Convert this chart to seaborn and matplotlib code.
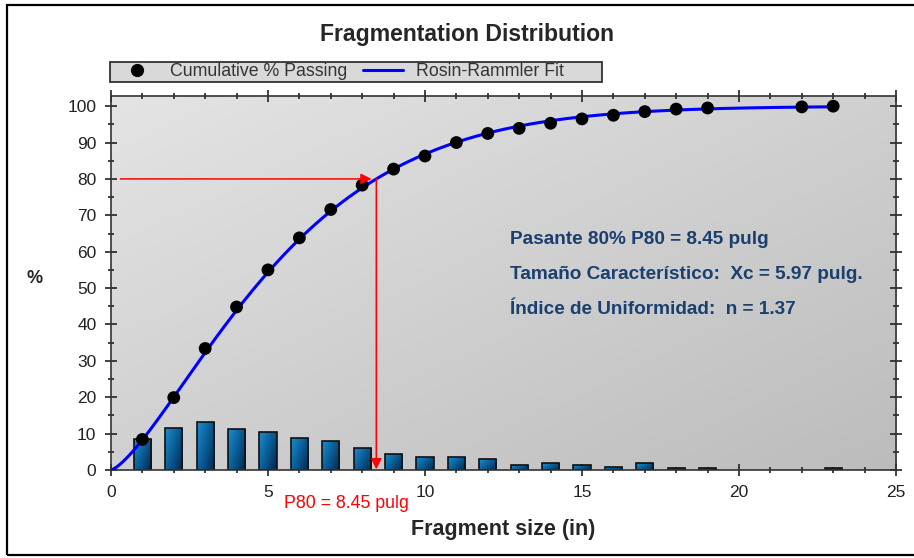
import numpy as np
import matplotlib
matplotlib.use("Agg")
import matplotlib.pyplot as plt
from matplotlib.lines import Line2D
from matplotlib.patches import Rectangle
from matplotlib.ticker import MultipleLocator
from matplotlib.colors import LinearSegmentedColormap
import seaborn as sns

# Sieve sizes (in) and cumulative % passing
size_in = [1, 2, 3, 4, 5, 6, 7, 8, 9, 10, 11, 12, 13, 14, 15, 16, 17, 18, 19, 22, 23]
cum_passing = [8.4, 19.9, 33.4, 44.8, 55.0, 63.8, 71.6, 78.3, 82.7, 86.3, 90.0,
               92.5, 93.9, 95.3, 96.5, 97.5, 98.5, 99.2, 99.5, 99.8, 100.0]

# Retained % per size class
bin_size = [1, 2, 3, 4, 5, 6, 7, 8, 9, 10, 11, 12, 13, 14, 15, 16, 17, 18, 19, 23]
retained = [8.4, 11.6, 13.2, 11.2, 10.5, 8.8, 8.1, 6.1, 4.5, 3.7, 3.7, 2.9,
            1.4, 1.8, 1.5, 0.9, 1.8, 0.5, 0.5, 0.5]

# Rosin-Rammler parameters
xc = 5.97
n_index = 1.37
p80 = 8.45
fit_x = np.linspace(0, 23, 300)
fit_y = 100 * (1 - np.exp(-(fit_x / xc) ** n_index))

sns.set_style("ticks")
plt.rcParams["font.family"] = ["Liberation Sans", "DejaVu Sans"]

W, H = 914, 558
fig = plt.figure(figsize=(W / 100, H / 100), dpi=100)
ax = fig.add_axes([0.1214, 0.1577, 0.8589, 0.6703])

# Outer frame around the figure
fig.patches.append(Rectangle((7 / W, 3 / H), 1.0, 1 - 8 / H,
                             transform=fig.transFigure, fill=False,
                             edgecolor="black", lw=1.6, zorder=10))

# Gradient plot background, light at top-left, darker at bottom-right
bg_cmap = LinearSegmentedColormap.from_list("bg", ["#e4e4e4", "#bcbcbc"])
gy, gx = np.mgrid[0:1:200j, 0:1:200j]
bg = 0.5 * gx + 0.5 * gy
ax.imshow(bg, extent=[0, 1, 0, 1], transform=ax.transAxes, cmap=bg_cmap,
          vmin=0, vmax=1, aspect="auto", zorder=0, origin="upper")

# Histogram bars with blue gradient fill
sns.barplot(x=bin_size, y=retained, native_scale=True, width=0.55, ax=ax,
            color="#0b5f9a", edgecolor="#101010", linewidth=1.2, zorder=2)
bar_cmap = LinearSegmentedColormap.from_list("barblue", ["#1b8fd2", "#0a5c94", "#02264a"])
bgx, bgy = np.meshgrid(np.linspace(0, 1, 50), np.linspace(0, 1, 50))
bar_grad = 0.6 * bgx + 0.4 * bgy
for p in list(ax.patches):
    x0, y0 = p.get_x(), p.get_y()
    w, h = p.get_width(), p.get_height()
    im = ax.imshow(bar_grad, extent=[x0, x0 + w, y0, y0 + h], cmap=bar_cmap,
                   aspect="auto", origin="upper", zorder=2.1)
    im.set_clip_path(p)
    p.set_facecolor("none")
    p.set_zorder(2.2)

sns.lineplot(x=fit_x, y=fit_y, color="#0000ff", lw=2.2, ax=ax, zorder=3)
sns.scatterplot(x=size_in, y=cum_passing, color="black", s=85, edgecolor="none",
                ax=ax, zorder=4)

# P80 guide arrows
ax.annotate("", xy=(p80 - 0.15, 80), xytext=(0.3, 80),
            arrowprops=dict(arrowstyle="-|>", color="red", lw=1.1,
                            mutation_scale=16, shrinkA=0, shrinkB=0), zorder=5)
ax.annotate("", xy=(p80, 0.2), xytext=(p80, 80),
            arrowprops=dict(arrowstyle="-|>", color="red", lw=1.1,
                            mutation_scale=16, shrinkA=0, shrinkB=0), zorder=5)
ax.text(7.5, -9.1, f"P80 = {p80:.2f} pulg", color="red", fontsize=12.8,
        ha="center", va="center", clip_on=False)

info_color = "#1b3f6e"
ax.text(12.7, 63.4, f"Pasante 80% P80 = {p80:.2f} pulg", color=info_color,
        fontsize=13.7, fontweight="bold", ha="left", va="center")
ax.text(12.7, 53.7, f"Tamaño Característico:  Xc = {xc:.2f} pulg.", color=info_color,
        fontsize=13.7, fontweight="bold", ha="left", va="center")
ax.text(12.7, 44.1, f"Índice de Uniformidad:  n = {n_index:.2f}", color=info_color,
        fontsize=13.7, fontweight="bold", ha="left", va="center")

ax.set_xlim(0, 25)
ax.set_ylim(0, 102.8)
ax.xaxis.set_major_locator(MultipleLocator(5))
ax.xaxis.set_minor_locator(MultipleLocator(1))
ax.yaxis.set_major_locator(MultipleLocator(10))
ax.yaxis.set_minor_locator(MultipleLocator(5))
ax.tick_params(which="both", direction="inout", top=True, right=True,
               colors="#222222", labelcolor="#222222", width=1.2)
ax.tick_params(which="major", length=9, labelsize=12.5, pad=6)
ax.tick_params(which="minor", length=5)
for s in ax.spines.values():
    s.set_color("#333333")
    s.set_linewidth(1.2)

ax.set_xlabel("Fragment size (in)", fontsize=15.5, fontweight="bold", labelpad=14)
ax.set_ylabel("%", fontsize=13, fontweight="bold", rotation=0, labelpad=0)
ax.yaxis.set_label_coords(-0.097, 0.49)

fig.text(0.511, 0.938, "Fragmentation Distribution", fontsize=16.6,
         fontweight="bold", ha="center", va="center")

# Legend strip: grey box with the two series keys
fig.patches.append(Rectangle((110 / W, 1 - 82 / H), 492 / W, 20 / H,
                             transform=fig.transFigure, facecolor="#d9d9d9",
                             edgecolor="#222222", lw=1.2, zorder=-1))
handles = [Line2D([], [], marker="o", color="black", ls="none", markersize=8.5),
           Line2D([], [], color="#0000ff", lw=2.2)]
leg = ax.legend(handles, ["Cumulative % Passing", "Rosin-Rammler Fit"], ncol=2,
                loc="center left", bbox_to_anchor=(110 / W, 1 - 72 / H),
                bbox_transform=fig.transFigure, fontsize=12.8, frameon=False,
                borderpad=0.4, handlelength=2.25, columnspacing=0.85,
                handletextpad=0.75, borderaxespad=0)
for t in leg.get_texts():
    t.set_color("#333333")

fig.savefig("out.png", dpi=100)
